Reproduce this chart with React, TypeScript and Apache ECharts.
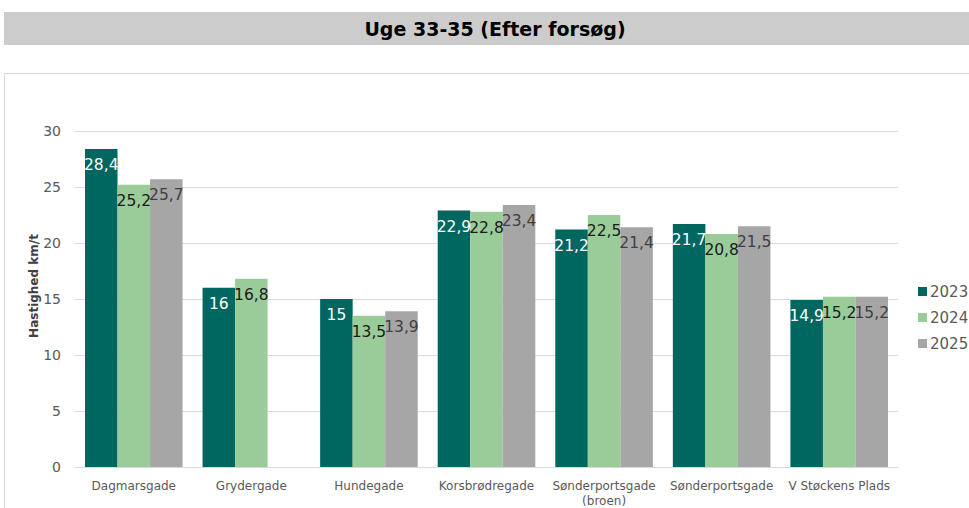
import React, { useEffect, useRef } from "react";
import * as echarts from "echarts";

const categories = [
  "Dagmarsgade",
  "Grydergade",
  "Hundegade",
  "Korsbrødregade",
  "Sønderportsgade\n(broen)",
  "Sønderportsgade",
  "V Støckens Plads",
];
const years = ["2023", "2024", "2025"];
const values2023 = [28.4, 16, 15, 22.9, 21.2, 21.7, 14.9];
const values2024 = [25.2, 16.8, 13.5, 22.8, 22.5, 20.8, 15.2];
const values2025 = [25.7, null, 13.9, 23.4, 21.4, 21.5, 15.2];
const colors = ["#006660", "#99cc99", "#a6a6a6"];
const labelColors = ["#ffffff", "#1a1a1a", "#404040"];

const FONT = "DejaVu Sans, Verdana, sans-serif";

export default function App() {
  const ref = useRef<HTMLDivElement>(null);
  useEffect(() => {
    if (!ref.current) return;
    const chart = echarts.init(ref.current, null, { renderer: "svg" });
    const seriesData = [values2023, values2024, values2025];
    chart.setOption({
      animation: false,
      textStyle: { fontFamily: FONT },
      graphic: [
        {
          type: "rect",
          shape: { x: 4, y: 12, width: 965, height: 33 },
          style: { fill: "#cccccc" },
          z: -1,
        },
        {
          type: "text",
          x: 495,
          y: 29,
          style: {
            text: "Uge 33-35 (Efter forsøg)",
            font: "bold 19px " + FONT,
            fill: "#000000",
            align: "center",
            verticalAlign: "middle",
          },
        },
        {
          type: "rect",
          shape: { x: 4.5, y: 73.5, width: 970, height: 440 },
          style: { fill: "none", stroke: "#d9d9d9", lineWidth: 1 },
          z: -1,
        },
      ],
      legend: {
        orient: "vertical",
        left: 913,
        top: 279,
        itemWidth: 9,
        itemHeight: 9,
        itemGap: 11,
        icon: "rect",
        textStyle: { fontSize: 15, color: "#595959", fontFamily: FONT, padding: [0, 0, 0, -2] },
        data: years,
      },
      grid: { left: 75, right: 71, top: 131, bottom: 40 },
      xAxis: {
        type: "category",
        data: categories,
        axisLine: { lineStyle: { color: "#d9d9d9" } },
        axisTick: { show: false },
        axisLabel: { color: "#595959", fontSize: 12, fontFamily: FONT, interval: 0, margin: 11, lineHeight: 15 },
      },
      yAxis: {
        type: "value",
        min: 0,
        max: 30,
        interval: 5,
        name: "Hastighed km/t",
        nameLocation: "middle",
        nameGap: 35,
        nameMoveOverlap: false,
        nameTextStyle: {
          fontWeight: "bold",
          fontSize: 12,
          color: "#404040",
          fontFamily: FONT,
          padding: [0, 0, 0, 26],
        },
        axisLine: { show: false },
        axisTick: { show: false },
        splitLine: { lineStyle: { color: "#d9d9d9" } },
        axisLabel: { color: "#595959", fontSize: 14, fontFamily: FONT, margin: 14 },
      },
      series: years.map((y, i) => ({
        name: y,
        type: "bar",
        data: seriesData[i],
        barGap: "0%",
        barCategoryGap: "17%",
        itemStyle: { color: colors[i] },
        label: {
          show: true,
          position: "insideTop",
          distance: 8,
          color: labelColors[i],
          fontSize: 15.5,
          fontFamily: FONT,
          formatter: (p: any) => String(p.value).replace(".", ","),
        },
      })),
    });
    return () => chart.dispose();
  }, []);
  return <div ref={ref} style={{ width: 969, height: 508, position: "absolute", left: 0, top: 0 }} />;
}
